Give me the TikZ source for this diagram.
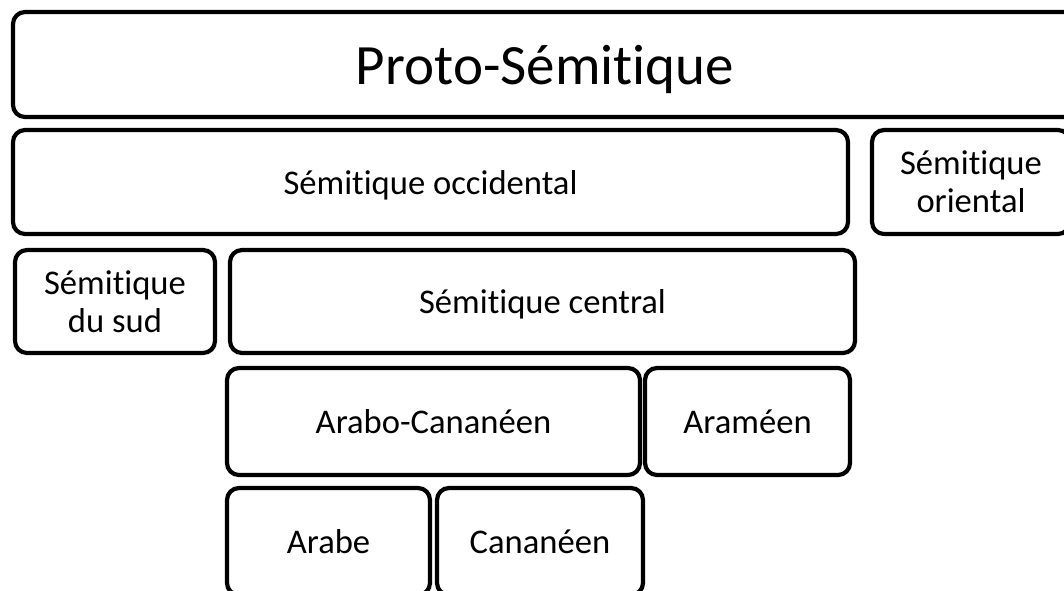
\documentclass[tikz,border=0pt]{standalone}
\usepackage{fontspec}
\setmainfont{Carlito}[Ligatures=NoCommon]
\usetikzlibrary{positioning}

\tikzset{
    langbox/.style={draw, line width=4.2pt, rounded corners=12pt, inner sep=0pt,
        align=center, text depth=0pt, font=\fontsize{34.6}{38}\selectfont},
    rootbox/.style={langbox, font=\fontsize{57}{60}\selectfont}
}

\begin{document}
\begin{tikzpicture}[x=1pt,y=-1pt]
    \useasboundingbox (0,0) rectangle (1064,590);
    \clip (0,0) rectangle (1064,590);
    \node[rootbox, minimum width=1064pt, minimum height=105pt] (proto) at (545,64.5) {Proto-Sémitique};
    \node[langbox, minimum width=835pt, minimum height=104pt] (occidental) at (430.5,182) {Sémitique occidental};
    \node[langbox, minimum width=198pt, minimum height=104pt] (oriental) at (971,182) {Sémitique\\oriental};
    \node[langbox, minimum width=200pt, minimum height=103pt] (sud) at (115,301.5) {Sémitique\\du sud};
    \node[langbox, minimum width=625pt, minimum height=103pt] (central) at (542.5,301.5) {Sémitique central};
    \node[langbox, minimum width=413pt, minimum height=107pt] (arabocan) at (433.5,421.5) {Arabo-Cananéen};
    \node[langbox, minimum width=205pt, minimum height=107pt] (arameen) at (747.5,421.5) {Araméen};
    \node[langbox, minimum width=203pt, minimum height=107pt] (arabe) at (328.5,541.5) {Arabe};
    \node[langbox, minimum width=206pt, minimum height=107pt] (cananeen) at (540,541.5) {Cananéen};

\end{tikzpicture}
\end{document}
